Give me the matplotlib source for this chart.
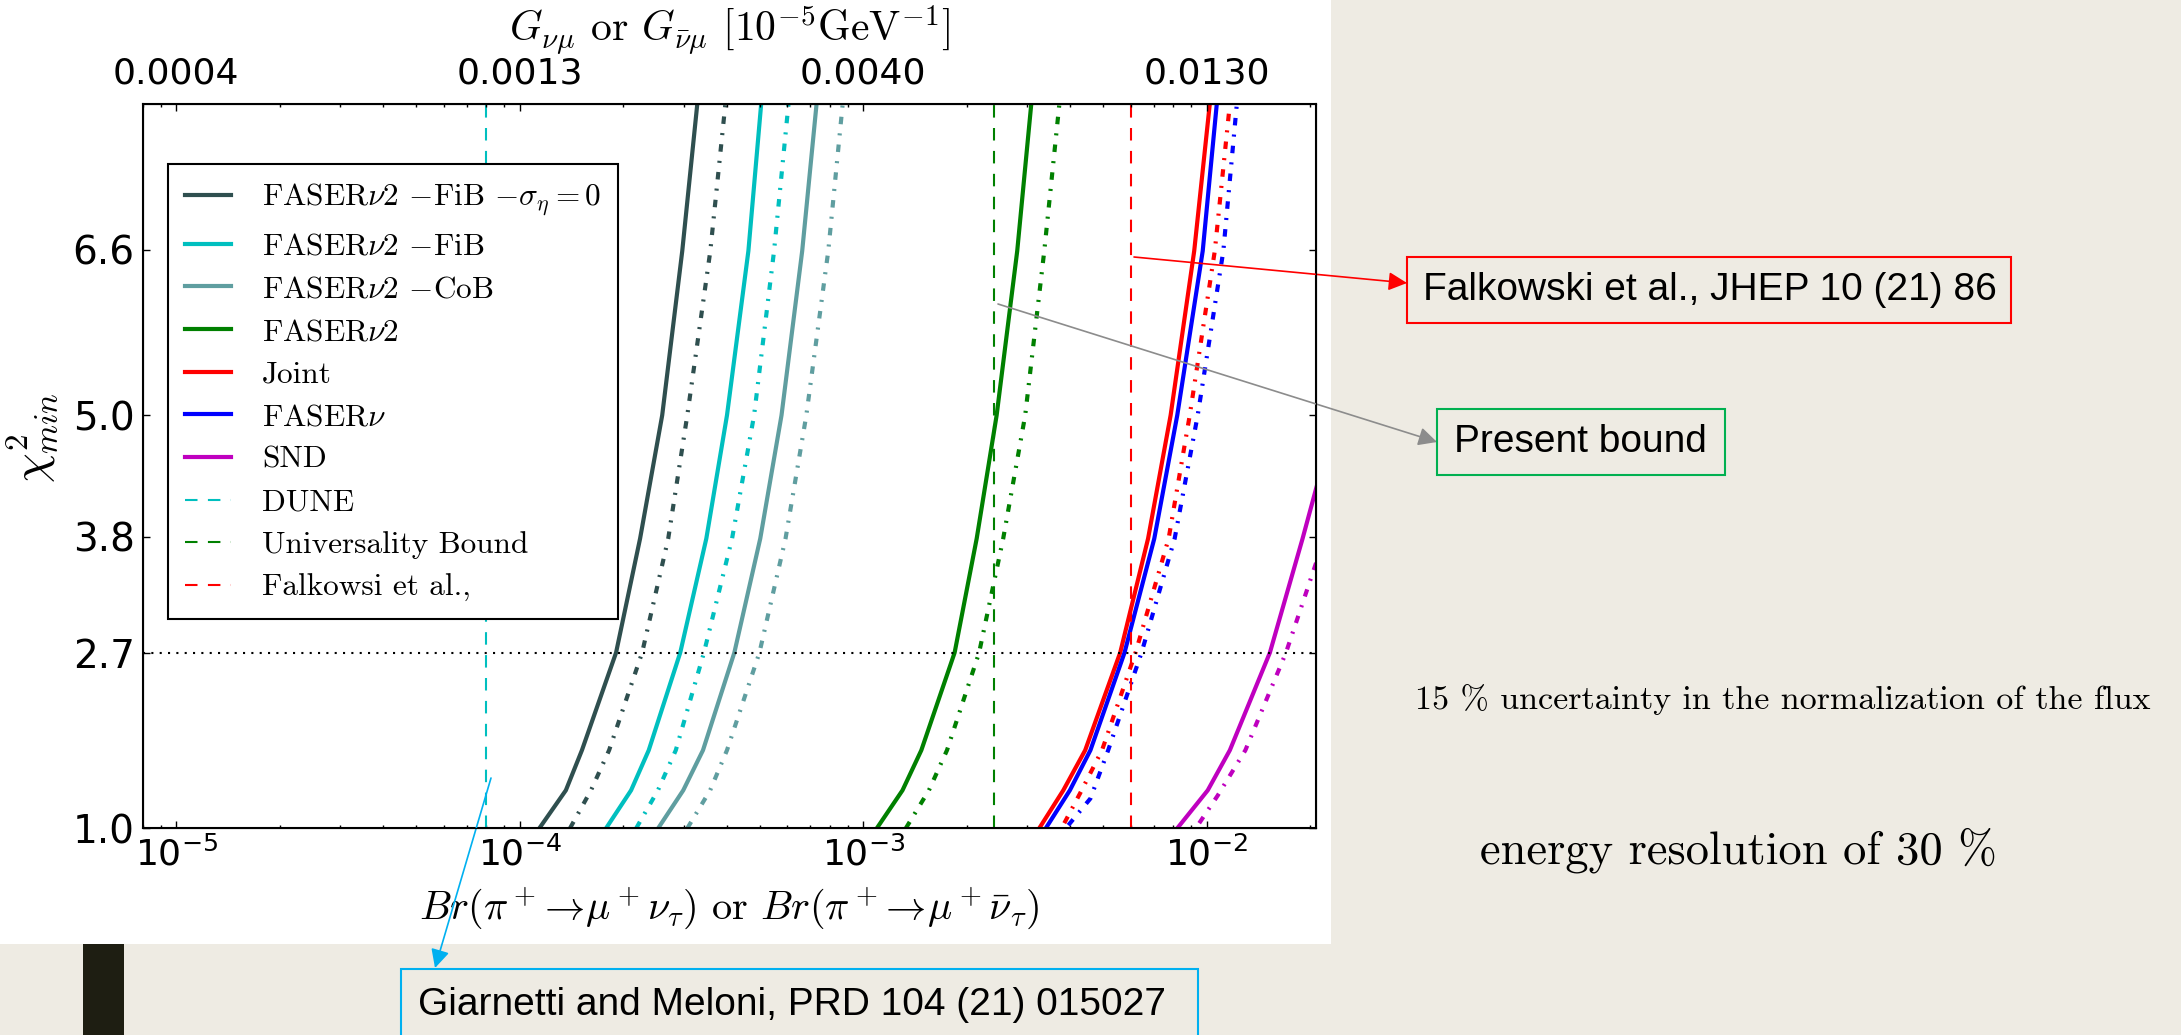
import matplotlib
matplotlib.use("Agg")
import matplotlib.pyplot as plt
from matplotlib.patches import Rectangle
from matplotlib.ticker import NullFormatter

# chi^2_min levels where each curve was sampled
chi2_main = [1.0, 1.37, 1.76, 2.71, 3.82, 5.02, 6.62, 8.05]
chi2_joint_alt = [1.05, 1.34, 1.76, 2.71, 3.82, 5.02, 6.62, 8.05]
chi2_faser_alt = [1.03, 1.29, 1.76, 2.71, 3.82, 5.02, 6.62, 8.05]
chi2_snd = [1.0, 1.37, 1.76, 2.71, 3.82, 4.45]
chi2_snd_alt = [1.05, 1.32, 1.76, 2.71, 3.70]

# branching ratios (solid = full analysis, *_alt = dash-dot variant)
br_fib0 = [1.140e-4, 1.362e-4, 1.517e-4, 1.907e-4, 2.240e-4, 2.598e-4, 2.972e-4, 3.287e-4]
br_fib0_alt = [1.400e-4, 1.612e-4, 1.820e-4, 2.271e-4, 2.705e-4, 3.074e-4, 3.587e-4, 3.968e-4]
br_fib = [1.783e-4, 2.109e-4, 2.374e-4, 2.932e-4, 3.492e-4, 4.011e-4, 4.630e-4, 5.044e-4]
br_fib_alt = [2.182e-4, 2.525e-4, 2.846e-4, 3.437e-4, 4.150e-4, 4.810e-4, 5.499e-4, 6.058e-4]
br_cob = [2.528e-4, 2.992e-4, 3.415e-4, 4.214e-4, 5.013e-4, 5.781e-4, 6.641e-4, 7.312e-4]
br_cob_alt = [3.074e-4, 3.583e-4, 4.011e-4, 4.986e-4, 5.939e-4, 6.827e-4, 7.909e-4, 8.711e-4]
br_faser2 = [1.095e-3, 1.301e-3, 1.476e-3, 1.845e-3, 2.139e-3, 2.445e-3, 2.807e-3, 3.084e-3]
br_faser2_alt = [1.330e-3, 1.553e-3, 1.753e-3, 2.174e-3, 2.555e-3, 2.961e-3, 3.365e-3, 3.723e-3]
br_joint = [3.253e-3, 3.823e-3, 4.427e-3, 5.598e-3, 6.748e-3, 7.849e-3, 9.194e-3, 1.0205e-2]
br_joint_alt = [3.848e-3, 4.277e-3, 4.956e-3, 6.204e-3, 7.745e-3, 8.922e-3, 1.0554e-2, 1.1675e-2]
br_faser = [3.399e-3, 3.995e-3, 4.585e-3, 5.763e-3, 7.035e-3, 8.206e-3, 9.734e-3, 1.0695e-2]
br_faser_alt = [3.954e-3, 4.585e-3, 5.164e-3, 6.459e-3, 8.064e-3, 9.412e-3, 1.1176e-2, 1.2235e-2]
br_snd = [8.206e-3, 1.0067e-2, 1.1675e-2, 1.527e-2, 1.901e-2, 2.138e-2]
br_snd_alt = [9.508e-3, 1.0767e-2, 1.2955e-2, 1.701e-2, 2.138e-2]

# existing bounds
br_dune = 8.0e-5
br_universality = 2.4e-3
br_falkowski = 6.0e-3

chi2_ticks = [1.0, 2.71, 3.84, 5.02, 6.63]
chi2_labels = ["1.0", "2.7", "3.8", "5.0", "6.6"]
br_decades = [1e-5, 1e-4, 1e-3, 1e-2]
g_labels = ["0.0004", "0.0013", "0.0040", "0.0130"]

W, H = 2181, 1035
BG = "#eeebe3"


def fx(px):
    return px / W


def fy(py):
    return 1 - py / H


fig = plt.figure(figsize=(W / 100, H / 100), dpi=100, facecolor=BG)

# slide decoration
fig.patches.append(Rectangle((0, fy(944)), fx(1331), 944 / H, transform=fig.transFigure,
                             facecolor="white", edgecolor="none", zorder=-2))
fig.patches.append(Rectangle((fx(83), 0), fx(41), 91 / H, transform=fig.transFigure,
                             facecolor="#1e1e12", edgecolor="none", zorder=-2))

ax = fig.add_axes([fx(143), fy(828.3), fx(1173), 724.3 / H])
ax.set_xscale("log")

solid = dict(lw=3)
dd = dict(lw=3, ls=(0, (1.8, 2.2, 0.5, 2.2)))

ax.plot(br_fib0, chi2_main, color="darkslategray", label=r"FASER$\nu$2 $-$FiB $-\sigma_{\eta}=0$", **solid)
ax.plot(br_fib0_alt, chi2_main, color="darkslategray", **dd)
ax.plot(br_fib, chi2_main, color="c", label=r"FASER$\nu$2 $-$FiB", **solid)
ax.plot(br_fib_alt, chi2_main, color="c", **dd)
ax.plot(br_cob, chi2_main, color="cadetblue", label=r"FASER$\nu$2 $-$CoB", **solid)
ax.plot(br_cob_alt, chi2_main, color="cadetblue", **dd)
ax.plot(br_faser2, chi2_main, color="g", label=r"FASER$\nu$2", **solid)
ax.plot(br_faser2_alt, chi2_main, color="g", **dd)
ax.plot(br_joint, chi2_main, color="r", label="Joint", **solid)
ax.plot(br_joint_alt, chi2_joint_alt, color="r", **dd)
ax.plot(br_faser, chi2_main, color="b", label=r"FASER$\nu$", **solid)
ax.plot(br_faser_alt, chi2_faser_alt, color="b", **dd)
ax.plot(br_snd, chi2_snd, color="m", label="SND", **solid)
ax.plot(br_snd_alt, chi2_snd_alt, color="m", **dd)

ax.axvline(br_dune, color="c", lw=1.5, ls=(0, (6, 5)), label="DUNE")
ax.axvline(br_universality, color="g", lw=1.5, ls=(0, (6, 5)), label="Universality Bound")
ax.axvline(br_falkowski, color="r", lw=1.5, ls=(0, (6, 5)), label="Falkowsi et al.,")
ax.axhline(chi2_ticks[1], color="k", lw=1.5, ls=(0, (1, 3)))

ax.set_xlim(8e-6, 2.08e-2)
ax.set_ylim(1.0, 8.05)
ax.set_yticks(chi2_ticks)
ax.set_yticklabels(chi2_labels)
for s in ax.spines.values():
    s.set_linewidth(1.5)
ax.tick_params(which="both", direction="in", top=False, right=True)
ax.tick_params(which="major", length=5, width=1, pad=6)
ax.tick_params(which="minor", length=2.5, width=1)
ax.tick_params(axis="y", labelsize=28, pad=6)
ax.tick_params(axis="x", labelsize=26, pad=6)

ax.set_xlabel(r"$Br(\pi^+\!\rightarrow\!\mu^+\nu_\tau)$ or $Br(\pi^+\!\rightarrow\!\mu^+\bar{\nu}_\tau)$",
              fontsize=29, family="cmr10", math_fontfamily="cm")
ax.xaxis.set_label_coords(0.5, (828.3 - 886) / 724.3)
ax.set_ylabel(r"$\chi^2_{min}$", fontsize=34, math_fontfamily="cm")
ax.yaxis.set_label_coords((60 - 143) / 1173, 0.54)

# top axis: effective coupling corresponding to each branching ratio
ax2 = ax.twiny()
ax2.set_xscale("log")
ax2.set_xlim(ax.get_xlim())
ax2.set_xticks(br_decades)
ax2.set_xticklabels(g_labels)
ax2.xaxis.set_minor_formatter(NullFormatter())
ax2.tick_params(which="both", direction="in")
ax2.tick_params(which="major", length=5, width=1, labelsize=26, pad=10)
ax2.tick_params(which="minor", length=2.5, width=1)
ax2.set_xlabel(r"$G_{\nu\mu}$ or $G_{\bar{\nu}\mu}$ $[10^{-5}\mathrm{GeV}^{-1}]$",
               fontsize=30, family="cmr10", math_fontfamily="cm")
ax2.xaxis.set_label_coords(0.5, (828.3 - 41) / 724.3)

leg = ax.legend(loc="upper left", bbox_to_anchor=((168 - 143) / 1173, (828.3 - 164) / 724.3),
                borderaxespad=0, fancybox=False, framealpha=1, edgecolor="k",
                prop=dict(family="cmr10", size=22.5, math_fontfamily="cm"),
                handlelength=1.45, handletextpad=1.0, labelspacing=0.47, borderpad=0.55)
leg.get_frame().set_linewidth(1.5)

# references and comments around the plot
sans = "Liberation Sans"


def ref_box(x0, y0, x1, y1, color):
    fig.patches.append(Rectangle((fx(x0), fy(y1)), fx(x1 - x0), (y1 - y0) / H,
                                 transform=fig.transFigure, facecolor=BG,
                                 edgecolor=color, lw=1.5, zorder=3))


def arrow(p0, p1, color):
    ax.annotate("", xy=(p1[0], H - p1[1]), xycoords="figure pixels",
                xytext=(p0[0], H - p0[1]), textcoords="figure pixels",
                arrowprops=dict(arrowstyle="-|>", color=color, lw=1.2, mutation_scale=28,
                                shrinkA=0, shrinkB=0),
                annotation_clip=False)


ref_box(1407, 257, 2011, 323, "#ff0000")
fig.text(fx(1423), fy(290), "Falkowski et al., JHEP 10 (21) 86", family=sans,
         fontsize=28, va="center", ha="left")
arrow((1134, 257), (1407, 283), "#ff0000")

ref_box(1437, 409, 1725, 475, "#00b050")
fig.text(fx(1454), fy(442), "Present bound", family=sans, fontsize=28, va="center", ha="left")
arrow((998, 304), (1437, 442), "#8c8c8c")

ref_box(401, 969, 1198, 1060, "#00b0f0")
fig.text(fx(418), fy(1005), "Giarnetti and Meloni, PRD 104 (21) 015027", family=sans,
         fontsize=28, va="center", ha="left")
arrow((491, 778), (435, 968), "#00b0f0")

fig.text(fx(1415), fy(700), "15 % uncertainty in the normalization of the flux",
         family="cmr10", fontsize=24.5, va="center", ha="left")
fig.text(fx(1480), fy(850), "energy resolution of 30 %",
         family="cmr10", fontsize=33.5, va="center", ha="left")

fig.savefig("out.png", dpi=100, facecolor=BG)
